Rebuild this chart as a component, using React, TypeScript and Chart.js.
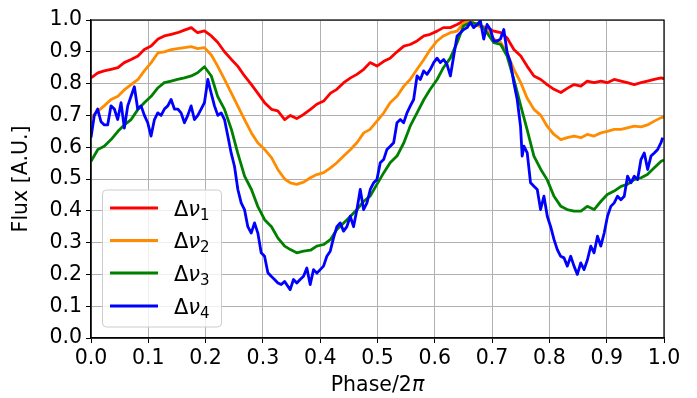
import React, { useEffect, useRef } from "react";
import { Chart, registerables } from "chart.js";

Chart.register(...registerables);

// Phase samples shared by the three smoother channels
const PHASE = [
  0, 0.012, 0.023, 0.035, 0.047, 0.058, 0.07, 0.082, 0.093, 0.105, 0.117, 0.128, 0.14, 0.151, 0.163,
  0.175, 0.186, 0.198, 0.21, 0.221, 0.233, 0.245, 0.256, 0.268, 0.28, 0.291, 0.303, 0.315, 0.326, 0.338,
  0.348, 0.359, 0.371, 0.383, 0.394, 0.406, 0.418, 0.429, 0.441, 0.453, 0.464, 0.476, 0.487, 0.499,
  0.511, 0.522, 0.534, 0.546, 0.557, 0.569, 0.581, 0.592, 0.604, 0.615, 0.627, 0.639, 0.65, 0.662,
  0.668, 0.68, 0.691, 0.703, 0.715, 0.726, 0.738, 0.75, 0.761, 0.773, 0.785, 0.796, 0.808, 0.82, 0.831,
  0.843, 0.855, 0.866, 0.878, 0.89, 0.901, 0.913, 0.925, 0.936, 0.948, 0.96, 0.971, 0.983, 0.995, 1.0,
];

const FLUX_1 = [
  0.818, 0.834, 0.84, 0.845, 0.85, 0.866, 0.876, 0.887, 0.907, 0.918, 0.94, 0.95, 0.955, 0.96, 0.968,
  0.976, 0.96, 0.966, 0.95, 0.93, 0.9, 0.876, 0.855, 0.824, 0.797, 0.77, 0.74, 0.719, 0.714, 0.687,
  0.7, 0.69, 0.703, 0.719, 0.735, 0.745, 0.77, 0.782, 0.803, 0.818, 0.829, 0.845, 0.866, 0.855,
  0.87, 0.88, 0.9, 0.918, 0.923, 0.934, 0.95, 0.955, 0.965, 0.976, 0.976, 0.986, 0.997, 1.0,
  0.986, 0.98, 0.976, 0.965, 0.96, 0.944, 0.907, 0.887, 0.855, 0.824, 0.813, 0.797, 0.782, 0.772, 0.785,
  0.797, 0.792, 0.808, 0.803, 0.808, 0.803, 0.813, 0.808, 0.803, 0.797, 0.803, 0.808, 0.813, 0.818, 0.815,
];

const FLUX_2 = [
  0.693, 0.713, 0.73, 0.75, 0.76, 0.78, 0.797, 0.813, 0.84, 0.866, 0.897, 0.9, 0.907, 0.91, 0.913,
  0.916, 0.91, 0.913, 0.89, 0.855, 0.813, 0.77, 0.73, 0.687, 0.645, 0.614, 0.593, 0.567, 0.53, 0.5,
  0.488, 0.483, 0.49, 0.504, 0.514, 0.52, 0.535, 0.551, 0.572, 0.593, 0.614, 0.645, 0.656, 0.682,
  0.708, 0.74, 0.76, 0.792, 0.813, 0.845, 0.876, 0.907, 0.934, 0.95, 0.96, 0.965, 0.99, 1.0,
  0.99, 0.98, 0.97, 0.94, 0.929, 0.897, 0.845, 0.803, 0.755, 0.719, 0.7, 0.666, 0.64, 0.624, 0.63,
  0.635, 0.63, 0.64, 0.635, 0.645, 0.65, 0.656, 0.656, 0.661, 0.666, 0.664, 0.67, 0.682, 0.693, 0.695,
];

const FLUX_3 = [
  0.556, 0.593, 0.603, 0.624, 0.65, 0.67, 0.687, 0.719, 0.74, 0.76, 0.787, 0.803, 0.808, 0.813, 0.818,
  0.824, 0.834, 0.853, 0.824, 0.76, 0.719, 0.656, 0.582, 0.509, 0.467, 0.414, 0.372, 0.35, 0.315, 0.289,
  0.278, 0.268, 0.273, 0.276, 0.289, 0.294, 0.31, 0.341, 0.362, 0.383, 0.404, 0.43, 0.446, 0.483,
  0.52, 0.551, 0.572, 0.614, 0.666, 0.708, 0.75, 0.782, 0.813, 0.85, 0.88, 0.929, 0.981, 0.992,
  0.99, 0.985, 0.96, 0.929, 0.923, 0.887, 0.813, 0.73, 0.656, 0.572, 0.53, 0.498, 0.446, 0.414, 0.404,
  0.399, 0.399, 0.414, 0.404, 0.43, 0.451, 0.462, 0.477, 0.483, 0.498, 0.504, 0.514, 0.535, 0.556, 0.56,
];

// The fourth channel is noisier, so it is sampled more finely
const PHASE_4 = [
  0, 0.0058, 0.0116, 0.0175, 0.0233, 0.0291, 0.0349, 0.0408, 0.0466, 0.0524, 0.0582, 0.0641, 0.0699,
  0.0757, 0.0815, 0.0874, 0.0932, 0.099, 0.1048, 0.1107, 0.1165, 0.1223, 0.1281, 0.134, 0.1398, 0.1456,
  0.1514, 0.1572, 0.1631, 0.1689, 0.1747, 0.1805, 0.1864, 0.1922, 0.198, 0.2039, 0.2097, 0.2155, 0.2213,
  0.2272, 0.233, 0.2388, 0.2446, 0.2504, 0.2563, 0.2621, 0.2679, 0.2737, 0.2796, 0.2854, 0.2912, 0.297,
  0.3029, 0.3087, 0.3145, 0.3203, 0.3262, 0.332, 0.3378,
  0.3476, 0.3534, 0.3592, 0.365, 0.3709, 0.3767, 0.3825, 0.3884, 0.3942, 0.4, 0.4058, 0.4116, 0.4175,
  0.4233, 0.4291, 0.4349, 0.4408, 0.4466, 0.4524, 0.4582, 0.4641, 0.4699, 0.4757, 0.4816, 0.4874, 0.4932,
  0.499, 0.5048, 0.5107, 0.5165, 0.5223, 0.5282, 0.534, 0.5398, 0.5456, 0.5515, 0.5573, 0.5631, 0.569,
  0.5748, 0.5806, 0.5864, 0.5922, 0.5981, 0.6039, 0.6097, 0.6155, 0.6214, 0.6272, 0.633, 0.6389, 0.6447,
  0.6505, 0.6564, 0.6622,
  0.6679, 0.6737, 0.6796, 0.6854, 0.6912, 0.6971, 0.7029, 0.7088, 0.7146, 0.7204, 0.7263, 0.7321, 0.7379,
  0.7438, 0.7496, 0.7525, 0.7555, 0.7613, 0.7671, 0.773, 0.7788, 0.7846, 0.7905, 0.7963, 0.8022, 0.808,
  0.8138, 0.8197, 0.8255, 0.8313, 0.8372, 0.843, 0.8488, 0.8547, 0.8605, 0.8664, 0.8722, 0.878, 0.8839,
  0.8897, 0.8956, 0.9014, 0.9072, 0.9131, 0.9189, 0.9248, 0.9306, 0.9364, 0.9423, 0.9481, 0.9539, 0.9598,
  0.9656, 0.9715, 0.9773, 0.9831, 0.989, 0.9948, 0.9977,
];

const FLUX_4 = [
  0.63, 0.7, 0.72, 0.68, 0.67, 0.67, 0.73, 0.72, 0.687, 0.74, 0.66, 0.73, 0.76, 0.79, 0.72, 0.73, 0.7,
  0.677, 0.635, 0.687, 0.708, 0.7, 0.72, 0.73, 0.75, 0.72, 0.72, 0.708, 0.677, 0.7, 0.73, 0.687, 0.7,
  0.72, 0.74, 0.813, 0.77, 0.73, 0.7, 0.708, 0.687, 0.635, 0.582, 0.54, 0.467, 0.425, 0.404, 0.35, 0.33,
  0.362, 0.33, 0.268, 0.257, 0.205, 0.194, 0.184, 0.173, 0.168, 0.178,
  0.152, 0.184, 0.173, 0.184, 0.194, 0.22, 0.168, 0.215, 0.204, 0.215, 0.226, 0.257, 0.273, 0.315, 0.35,
  0.362, 0.336, 0.35, 0.383, 0.35, 0.404, 0.467, 0.404, 0.425, 0.467, 0.488, 0.498, 0.551, 0.561, 0.593,
  0.603, 0.614, 0.677, 0.687, 0.677, 0.708, 0.73, 0.75, 0.824, 0.813, 0.84, 0.829, 0.845, 0.866, 0.88,
  0.866, 0.876, 0.86, 0.824, 0.887, 0.95, 0.96, 0.97, 0.976, 0.992,
  0.976, 0.986, 0.997, 0.94, 0.986, 0.97, 0.934, 0.934, 0.94, 0.97, 0.897, 0.866, 0.803, 0.75, 0.666,
  0.572, 0.603, 0.582, 0.488, 0.477, 0.467, 0.404, 0.446, 0.383, 0.35, 0.31, 0.278, 0.257, 0.252, 0.226,
  0.257, 0.226, 0.2, 0.236, 0.215, 0.246, 0.289, 0.268, 0.32, 0.289, 0.33, 0.383, 0.414, 0.425, 0.446,
  0.435, 0.446, 0.509, 0.488, 0.509, 0.498, 0.561, 0.582, 0.53, 0.572, 0.582, 0.593, 0.614, 0.63,
];

const SERIES_COLORS = ["#ff0000", "#ff8c00", "#008000", "#0000ff"];
const SERIES_INDEX = ["1", "2", "3", "4"];

const X_TITLE = "Phase/2";
const X_TITLE_SYMBOL = "π";
const Y_TITLE = "Flux [A.U.]";

const FONT = '"DejaVu Sans"';
const TICK_SIZE = 20.5;
const LEGEND_SIZE = 21;

const W = 697;
const H = 398;

const framePlugin = {
  id: "frameAndLegend",
  afterDatasetsDraw(chart: any) {
    const { ctx, chartArea: a } = chart;
    ctx.save();
    ctx.strokeStyle = "#000";
    ctx.lineWidth = 1.2;
    ctx.strokeRect(a.left, a.top, a.right - a.left, a.bottom - a.top);
    ctx.restore();
  },
  afterDraw(chart: any) {
    const { ctx, chartArea: a } = chart;
    ctx.save();
    ctx.fillStyle = "#000";
    ctx.textBaseline = "alphabetic";

    // x title with italic pi
    ctx.font = `${TICK_SIZE}px ${FONT}`;
    const w1 = ctx.measureText(X_TITLE).width;
    ctx.font = `italic ${TICK_SIZE}px ${FONT}`;
    const w2 = ctx.measureText(X_TITLE_SYMBOL).width;
    const cx = (a.left + a.right) / 2;
    const x0 = cx - (w1 + w2) / 2;
    const by = 391;
    ctx.font = `${TICK_SIZE}px ${FONT}`;
    ctx.fillText(X_TITLE, x0, by);
    ctx.font = `italic ${TICK_SIZE}px ${FONT}`;
    ctx.fillText(X_TITLE_SYMBOL, x0 + w1, by);

    // y title
    ctx.save();
    ctx.translate(22, (a.top + a.bottom) / 2);
    ctx.rotate(-Math.PI / 2);
    ctx.font = `${TICK_SIZE}px ${FONT}`;
    ctx.textAlign = "center";
    ctx.textBaseline = "middle";
    ctx.fillText(Y_TITLE, 0, 0);
    ctx.restore();

    // legend box
    const bx = 102.5, bw = 119, byTop = 190, bh = 137, r = 4;
    ctx.beginPath();
    ctx.moveTo(bx + r, byTop);
    ctx.arcTo(bx + bw, byTop, bx + bw, byTop + bh, r);
    ctx.arcTo(bx + bw, byTop + bh, bx, byTop + bh, r);
    ctx.arcTo(bx, byTop + bh, bx, byTop, r);
    ctx.arcTo(bx, byTop, bx + bw, byTop, r);
    ctx.closePath();
    ctx.fillStyle = "rgba(255,255,255,0.8)";
    ctx.fill();
    ctx.strokeStyle = "#cccccc";
    ctx.lineWidth = 1;
    ctx.stroke();

    const rowY = [208, 240.5, 273, 306];
    SERIES_COLORS.forEach((c, i) => {
      const y = rowY[i];
      ctx.strokeStyle = c;
      ctx.lineWidth = 3;
      ctx.lineCap = "butt";
      ctx.beginPath();
      ctx.moveTo(110, y);
      ctx.lineTo(158, y);
      ctx.stroke();

      ctx.fillStyle = "#000";
      const base = y + 7.5;
      let tx = 174;
      ctx.font = `${LEGEND_SIZE}px ${FONT}`;
      ctx.fillText("Δ", tx, base);
      tx += ctx.measureText("Δ").width;
      ctx.font = `italic ${LEGEND_SIZE}px ${FONT}`;
      ctx.fillText("ν", tx, base);
      tx += ctx.measureText("ν").width;
      ctx.font = `${Math.round(LEGEND_SIZE * 0.7)}px ${FONT}`;
      ctx.fillText(SERIES_INDEX[i], tx, base + 4);
    });
    ctx.restore();
  },
};

export default function App() {
  const ref = useRef<HTMLCanvasElement | null>(null);

  useEffect(() => {
    if (!ref.current) return;
    const series = [
      { x: PHASE, y: FLUX_1 },
      { x: PHASE, y: FLUX_2 },
      { x: PHASE, y: FLUX_3 },
      { x: PHASE_4, y: FLUX_4 },
    ];
    const chart = new Chart(ref.current, {
      type: "line",
      data: {
        datasets: series.map((s, i) => ({
          label: "Δν" + SERIES_INDEX[i],
          data: s.x.map((x, j) => ({ x, y: s.y[j] })),
          borderColor: SERIES_COLORS[i],
          backgroundColor: SERIES_COLORS[i],
          borderWidth: 2.8,
          pointRadius: 0,
          tension: 0,
          fill: false,
          borderJoinStyle: "round" as const,
          order: 3 - i,
        })),
      },
      options: {
        responsive: false,
        animation: false,
        devicePixelRatio: 1,
        layout: { padding: { left: 0, right: 33, top: 20, bottom: 0 } },
        plugins: { legend: { display: false }, tooltip: { enabled: false } },
        scales: {
          x: {
            type: "linear",
            min: 0,
            max: 1,
            afterFit: (s: any) => {
              s.height = 60;
            },
            ticks: {
              stepSize: 0.1,
              color: "#000",
              font: { family: FONT, size: TICK_SIZE },
              padding: 3,
              maxRotation: 0,
              callback: (v: any) => Number(v).toFixed(1),
            },
            grid: { color: "#b0b0b0", lineWidth: 1, tickColor: "#000", tickLength: 5, tickWidth: 1 },
            border: { color: "#000", width: 1.2 },
          },
          y: {
            min: 0,
            max: 1,
            afterFit: (s: any) => {
              s.width = 91;
            },
            ticks: {
              stepSize: 0.1,
              color: "#000",
              font: { family: FONT, size: TICK_SIZE },
              padding: 4,
              callback: (v: any) => Number(v).toFixed(1),
            },
            grid: { color: "#b0b0b0", lineWidth: 1, tickColor: "#000", tickLength: 5, tickWidth: 1 },
            border: { color: "#000", width: 1.2 },
          },
        },
      },
      plugins: [framePlugin],
    });
    return () => chart.destroy();
  }, []);

  return (
    <div style={{ position: "fixed", left: 0, top: 0, width: W, height: H, background: "#fff" }}>
      <canvas ref={ref} width={W} height={H} style={{ width: W, height: H, display: "block" }} />
    </div>
  );
}
